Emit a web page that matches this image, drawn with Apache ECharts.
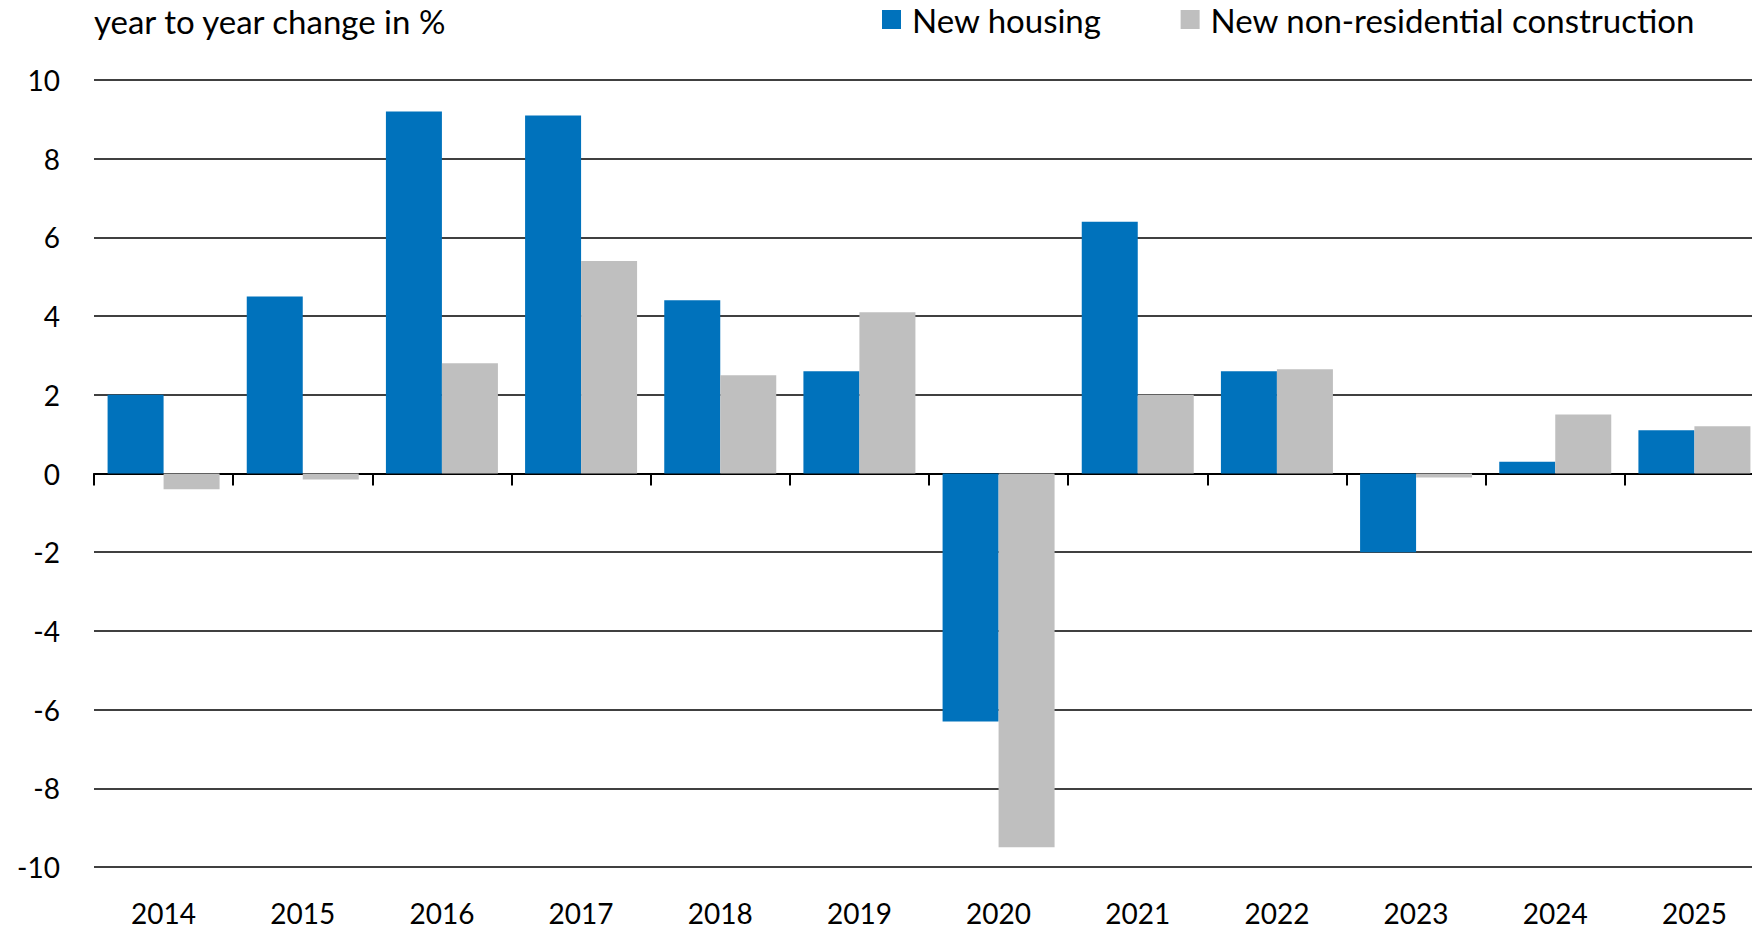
<!DOCTYPE html>
<html>
<head>
<meta charset="utf-8">
<script src="https://cdn.jsdelivr.net/npm/echarts@6/dist/echarts.min.js"></script>
<style>
  html, body { margin: 0; padding: 0; background: #fff; }
  #chart { width: 1752px; height: 931px; }
</style>
</head>
<body>
<div id="chart"></div>
<script>
// Values
const years = ['2014', '2015', '2016', '2017', '2018', '2019', '2020', '2021', '2022', '2023', '2024', '2025'];
const newHousing = [2.0, 4.5, 9.2, 9.1, 4.4, 2.6, -6.3, 6.4, 2.6, -2.0, 0.3, 1.1];
const newNonResidential = [-0.4, -0.15, 2.8, 5.4, 2.5, 4.1, -9.5, 2.0, 2.65, -0.1, 1.5, 1.2];
const yTicks = { min: -10, max: 10, interval: 2 };

const FONT = '"Source Sans Pro", Lato, sans-serif';
const BLUE = '#0072bc';
const GREY = '#bfbfbf';

const chart = echarts.init(document.getElementById('chart'), null, { renderer: 'svg' });

chart.setOption({
    animation: false,
    textStyle: { fontFamily: FONT },
    title: {
        text: 'year to year change in %',
        left: 89,
        top: -1,
        textStyle: { fontFamily: FONT, fontSize: 33, fontWeight: 'normal', color: '#000' }
    },
    legend: {
        top: -2,
        left: 877,
        itemWidth: 19,
        itemHeight: 19,
        itemGap: 79,
        icon: 'rect',
        textStyle: { fontFamily: FONT, fontSize: 33, color: '#000', padding: [0, 0, 0, 6] },
        data: ['New housing', 'New non-residential construction']
    },
    // the plot runs past the right edge of the picture, as in the reference
    grid: { left: 94, width: 1670, top: 80, bottom: 64, outerBoundsMode: 'none', containLabel: false },
    xAxis: [
        {
            // bottom axis: labels only
            type: 'category',
            data: years,
            position: 'bottom',
            axisLine: { show: false, onZero: false },
            axisTick: { show: false },
            axisLabel: { margin: 32, fontSize: 28, color: '#000', fontFamily: FONT }
        },
        {
            // zero line with ticks between categories
            type: 'category',
            data: years,
            position: 'bottom',
            axisLine: { show: true, onZero: true, lineStyle: { color: '#000', width: 2 } },
            axisTick: { show: true, length: 12, lineStyle: { color: '#000', width: 2 } },
            axisLabel: { show: false }
        }
    ],
    yAxis: {
        type: 'value',
        min: yTicks.min,
        max: yTicks.max,
        interval: yTicks.interval,
        axisLine: { show: false },
        axisTick: { show: false },
        axisLabel: { margin: 34, fontSize: 28, color: '#000', fontFamily: FONT },
        splitLine: { lineStyle: { color: '#000', width: 1.5 } }
    },
    series: [
        {
            name: 'New housing',
            type: 'bar',
            xAxisIndex: 0,
            data: newHousing,
            barWidth: 56,
            barGap: '0%',
            itemStyle: { color: BLUE }
        },
        {
            name: 'New non-residential construction',
            type: 'bar',
            xAxisIndex: 0,
            data: newNonResidential,
            barWidth: 56,
            barGap: '0%',
            itemStyle: { color: GREY }
        }
    ]
});
</script>
</body>
</html>
